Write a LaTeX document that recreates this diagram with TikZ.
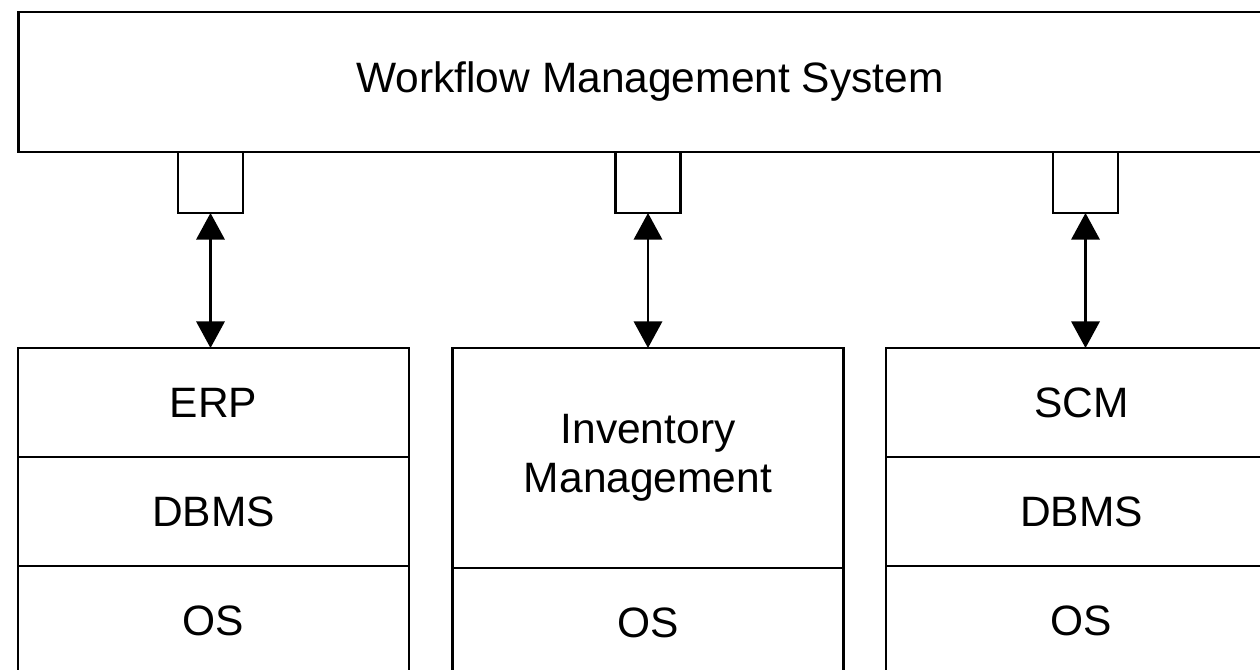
\documentclass[tikz,border=0pt]{standalone}
\usepackage{fontspec}
\setmainfont{Liberation Sans}
\usetikzlibrary{positioning, arrows.meta}
\tikzset{
    system/.style={rectangle, draw=black, line width=1.5pt, fill=white, minimum width=758pt, minimum height=84pt, inner sep=0pt, outer sep=0pt, font=\fontsize{25.5}{29.4}\selectfont},
    port/.style={rectangle, draw=black, line width=1.5pt, fill=white, minimum width=39pt, minimum height=36.6pt, inner sep=0pt, outer sep=0pt},
    layer/.style={rectangle, draw=black, line width=1.5pt, fill=white, minimum width=234.6pt, minimum height=65.4pt, inner sep=0pt, outer sep=0pt, align=center, font=\fontsize{25.5}{29.4}\selectfont},
    link/.style={{Triangle[width=17pt,length=16pt]}-{Triangle[width=17pt,length=16pt]}, line width=1.5pt}
}
\begin{document}
\begin{tikzpicture}[x=0.6pt, y=-0.6pt]
    \useasboundingbox (0,0) rectangle (1260,670);
    \clip (0,0) rectangle (1260,670);

    % Workflow system and its ports
    \node[system] (WFMS) at (650,82) {Workflow Management System};
    \node[port, anchor=north] (P1) at (210.5,152) {};
    \node[port, anchor=north] (P2) at (648,152) {};
    \node[port, anchor=north] (P3) at (1085.5,152) {};

    % ERP stack
    \node[layer, anchor=north] (ERP) at (213.5,348) {ERP};
    \node[layer, below=0pt of ERP] (DB1) {DBMS};
    \node[layer, below=0pt of DB1] (OS1) {OS};

    % Inventory stack
    \node[layer, minimum height=132pt, anchor=north] (INV) at (648,348) {Inventory\\Management};
    \node[layer, below=0pt of INV] (OS2) {OS};

    % SCM stack
    \node[layer, anchor=north] (SCM) at (1081.5,348) {SCM};
    \node[layer, below=0pt of SCM] (DB3) {DBMS};
    \node[layer, below=0pt of DB3] (OS3) {OS};

    % Connections
    \draw[link] (P1.south) -- (P1.south |- ERP.north);
    \draw[link] (P2.south) -- (P2.south |- INV.north);
    \draw[link] (P3.south) -- (P3.south |- SCM.north);

\end{tikzpicture}
\end{document}
